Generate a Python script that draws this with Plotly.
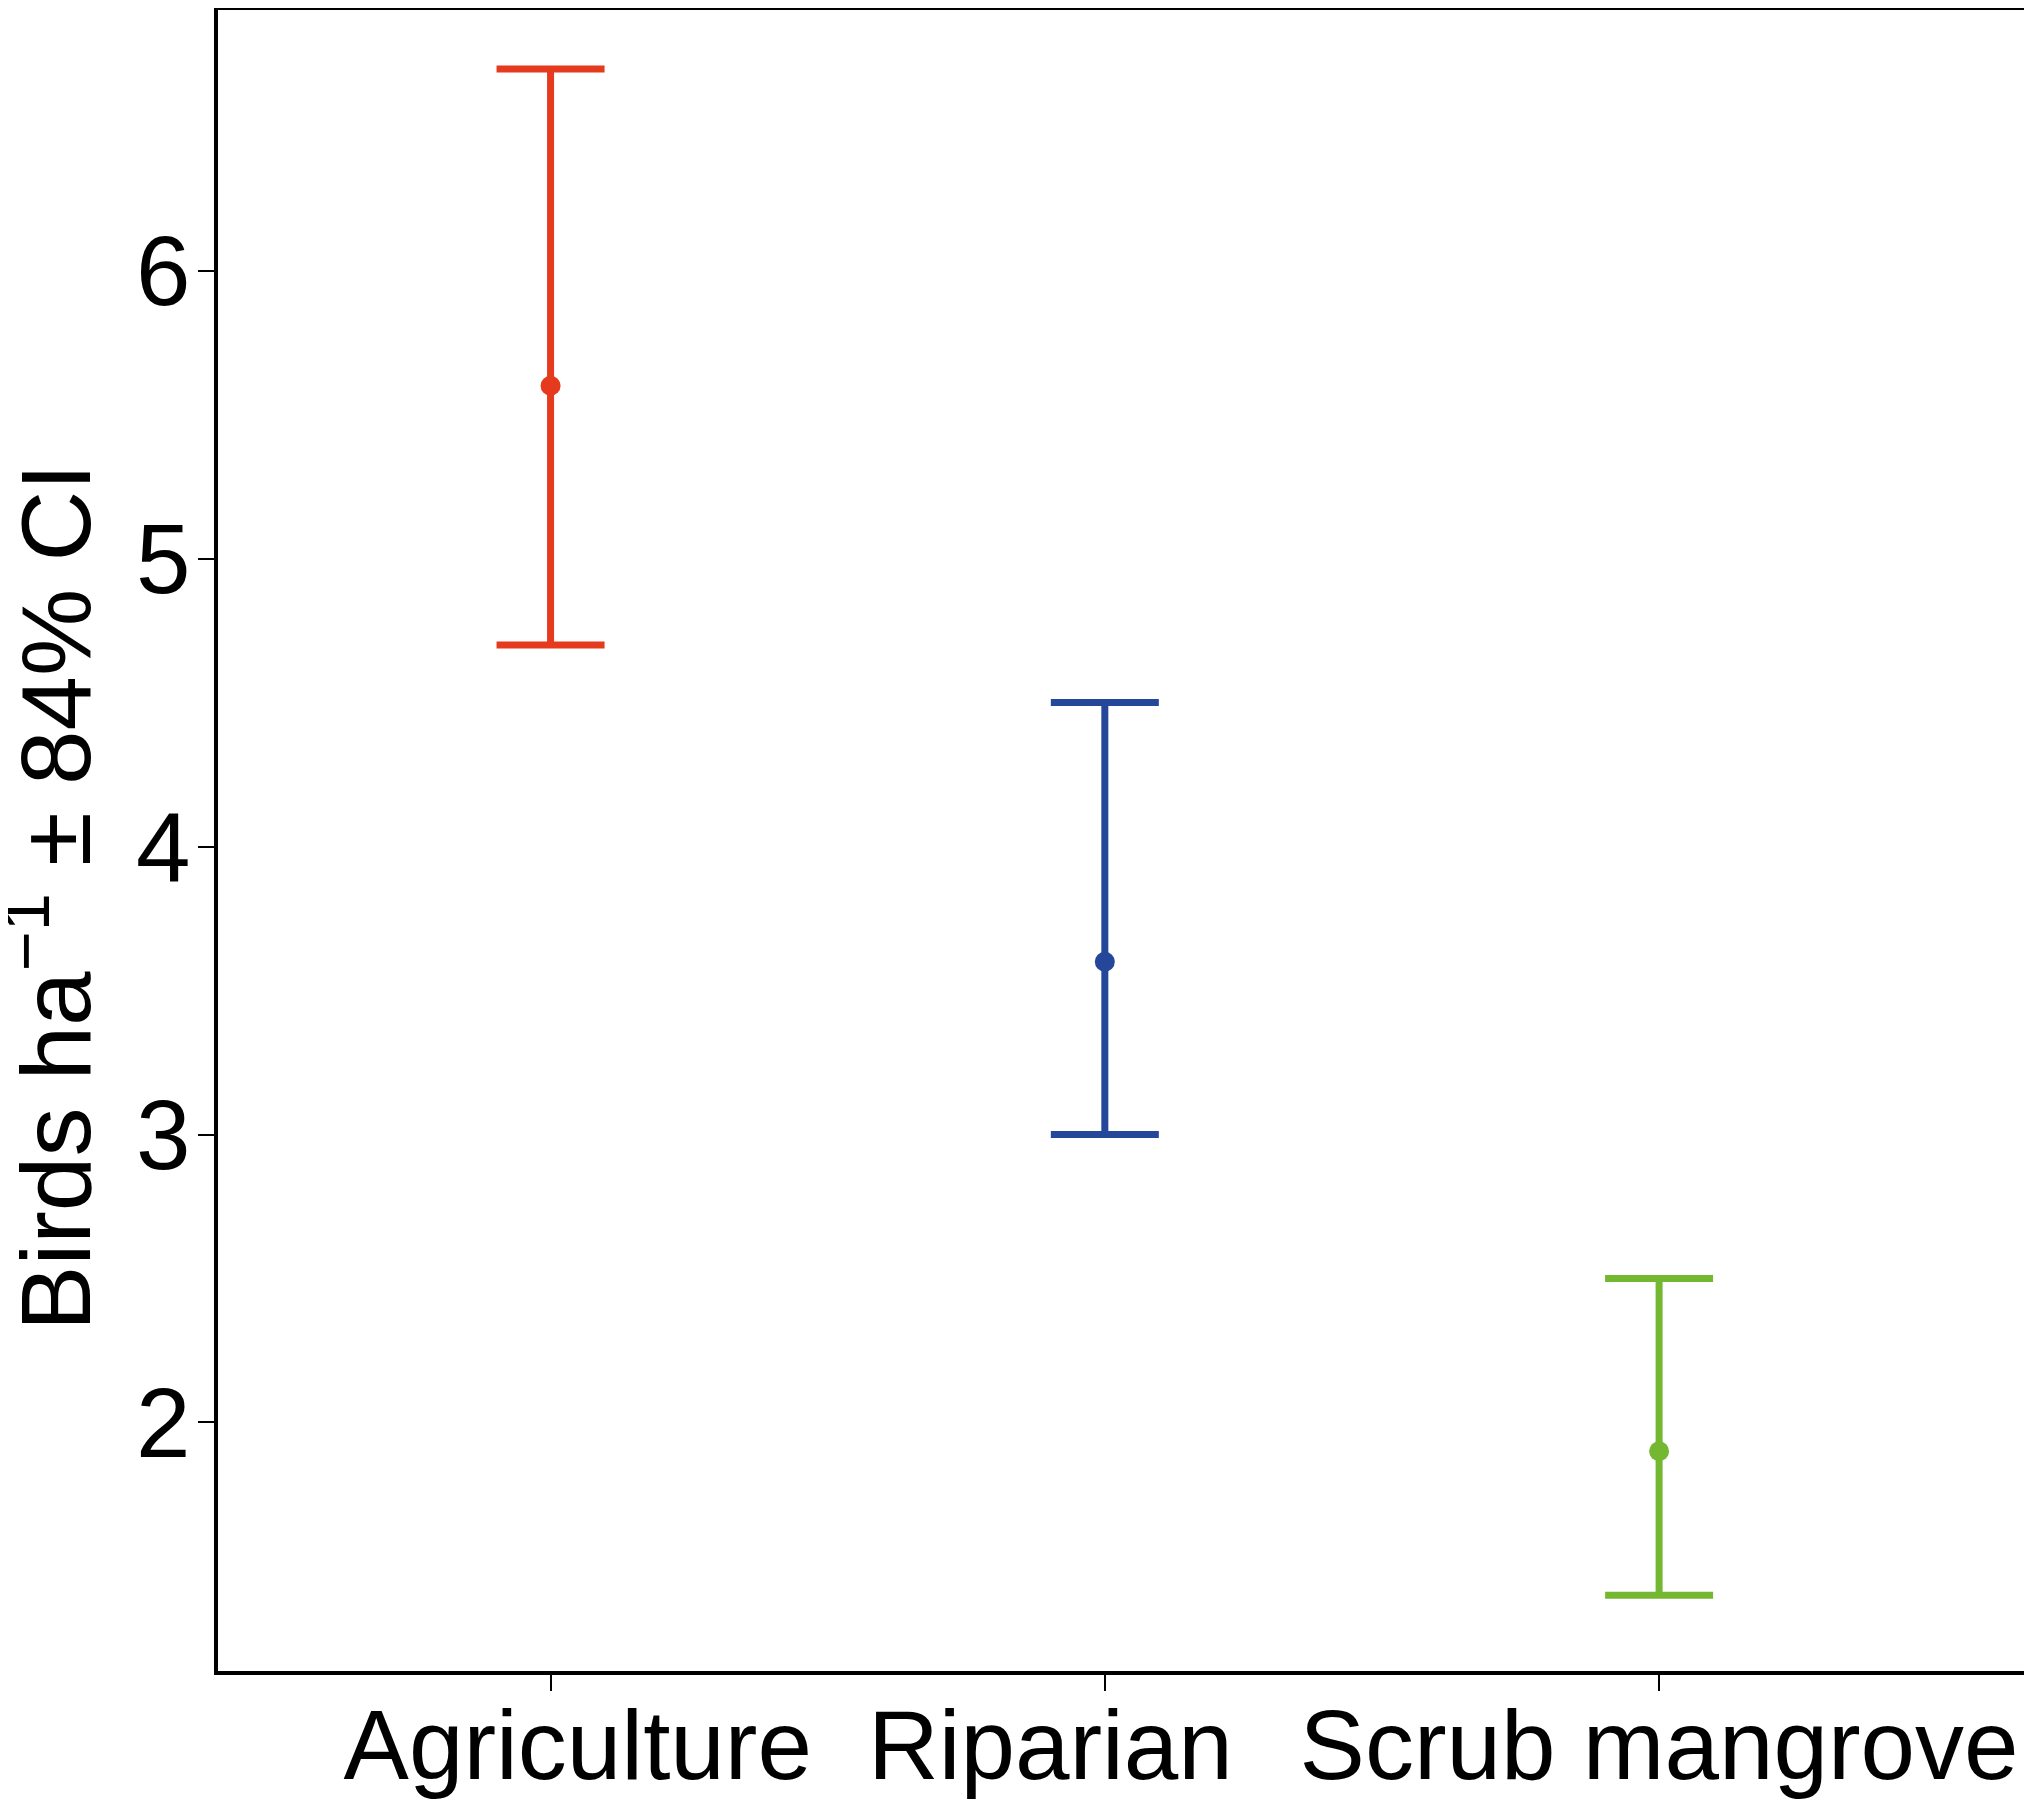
import plotly.graph_objects as go

# data
habitats = ["Agriculture", "Riparian", "Scrub mangrove"]
density = [5.6, 3.6, 1.9]
ci_upper = [6.7, 4.5, 2.5]
ci_lower = [4.7, 3.0, 1.4]
colors = ["#E63A1E", "#24479A", "#74B832"]

# labels nudged sideways with non-breaking spaces, like the original layout
nb = "\u00a0"
tick_text = [nb * 2 + habitats[0], habitats[1] + nb * 4, habitats[2]]

fig = go.Figure()

for i, h in enumerate(habitats):
    fig.add_trace(go.Scatter(
        x=[h], y=[density[i]],
        mode="markers",
        marker=dict(color=colors[i], size=20),
        error_y=dict(
            type="data", symmetric=False,
            array=[ci_upper[i] - density[i]],
            arrayminus=[density[i] - ci_lower[i]],
            color=colors[i], thickness=7, width=54,
        ),
        showlegend=False,
    ))

fig.update_layout(
    width=2032, height=1800,
    margin=dict(l=210, r=4, t=2, b=137, autoexpand=False),
    plot_bgcolor="white", paper_bgcolor="white",
    font=dict(family="Liberation Sans, Arial, sans-serif", color="black", size=98),
)

fig.update_xaxes(
    type="category", range=[-0.6, 2.68],
    tickvals=habitats, ticktext=tick_text, tickangle=0,
    showline=True, linecolor="black", linewidth=4, mirror=True,
    ticks="outside", ticklen=16, tickwidth=2, tickcolor="black",
    ticklabelstandoff=-30,
    showgrid=False, zeroline=False,
    tickfont=dict(size=98),
)

fig.update_yaxes(
    range=[1.137, 6.905],
    tickvals=[2, 3, 4, 5, 6],
    showline=True, linecolor="black", linewidth=4, mirror=True,
    ticks="outside", ticklen=16, tickwidth=2, tickcolor="black",
    ticklabelstandoff=-12,
    showgrid=False, zeroline=False,
    tickfont=dict(size=98),
)

fig.add_annotation(
    text="Birds ha<sup>−1</sup> ± 84% CI",
    xref="paper", yref="paper", x=-0.093, y=0.466,
    xanchor="center", yanchor="middle",
    textangle=-90, showarrow=False,
    font=dict(size=98, color="black"),
)

fig.write_html("out.html")
